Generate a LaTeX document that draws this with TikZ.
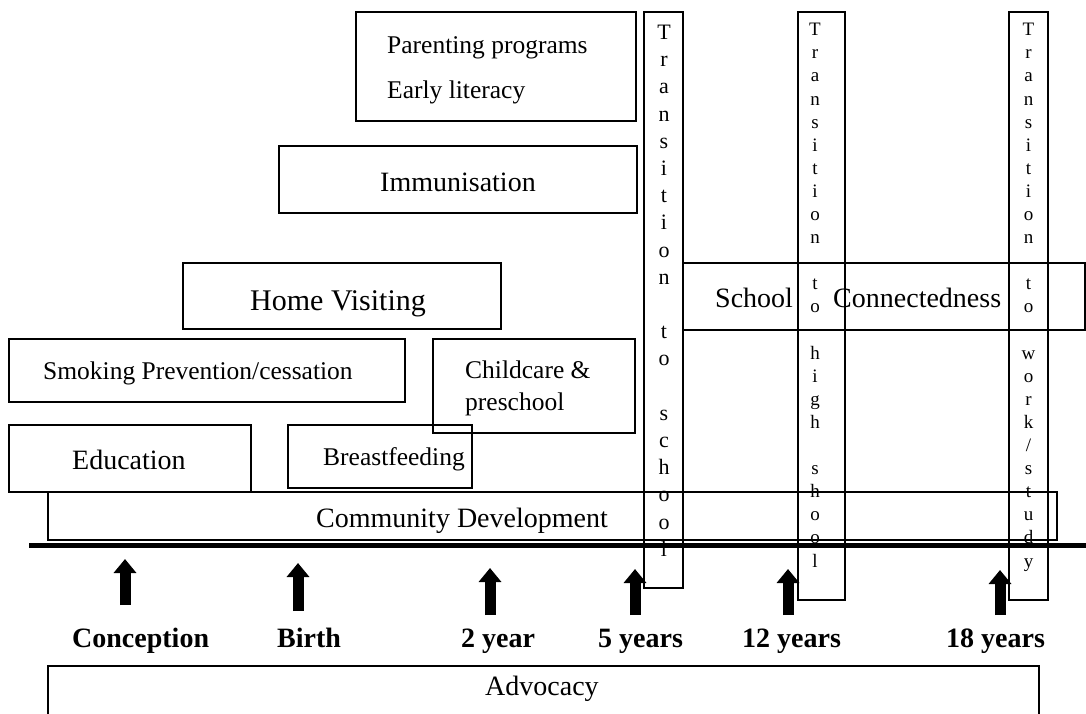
\documentclass[tikz,border=0pt]{standalone}
\usepackage{fontspec}
\setmainfont{Liberation Serif}
\usetikzlibrary{arrows.meta}
\begin{document}
\begin{tikzpicture}[x=1pt,y=-1pt,
  box/.style={draw, line width=1.3pt, inner sep=0pt},
  txt/.style={anchor=base west, inner sep=0pt},
  big/.style={font=\fontsize{28}{33}\selectfont},
  mid/.style={font=\fontsize{25.5}{30}\selectfont},
  lab/.style={anchor=base west, inner sep=0pt, font=\fontsize{28}{33}\selectfont\bfseries},
  vtxtA/.style={anchor=north, inner sep=0pt, align=center, font=\fontsize{22}{27.2}\selectfont},
  vtxtB/.style={anchor=north, inner sep=0pt, align=center, font=\fontsize{19}{23.1}\selectfont},
  uparrow/.style={line width=11pt, -{Triangle[width=22pt,length=14pt]}}
]
\useasboundingbox (0,0) rectangle (1086,713);
\clip (0,0) rectangle (1086,713);

% boxes
\node[box, minimum width=280pt, minimum height=109pt] (par) at (496,66.5) {};
\node[box, minimum width=358pt, minimum height=67pt] (imm) at (458,179.5) {};
\node[box, minimum width=318pt, minimum height=66pt] (home) at (342,296) {};
\node[box, minimum width=396pt, minimum height=63pt] (smok) at (207,370.5) {};
\node[box, minimum width=202pt, minimum height=94pt] (child) at (534,386) {};
\node[box, minimum width=242pt, minimum height=67pt] (edu) at (130,458.5) {};
\node[box, minimum width=184pt, minimum height=63pt] (breast) at (380,456.5) {};
\node[box, minimum width=1009pt, minimum height=48pt] (comm) at (552.5,516) {};
\node[box, minimum width=402pt, minimum height=67pt] (school) at (884,296.5) {};
\node[box, minimum width=991pt, minimum height=64pt] (adv) at (543.5,698) {};
\node[box, minimum width=39pt, minimum height=576pt] (t1) at (663.5,300) {};
\node[box, minimum width=47pt, minimum height=588pt] (t2) at (821.5,306) {};
\node[box, minimum width=39pt, minimum height=588pt] (t3) at (1028.5,306) {};

% box texts
\node[txt, mid] (part1) at (387,53) {Parenting programs};
\node[txt, mid] (part2) at (387,98) {Early literacy};
\node[txt, big] (immt) at (380,191) {Immunisation};
\node[txt, font=\fontsize{30}{35}\selectfont] (homet) at (250,310) {Home Visiting};
\node[txt, mid] (smokt) at (43,379) {Smoking Prevention/cessation};
\node[txt, mid] (childt1) at (465,378) {Childcare \&};
\node[txt, mid] (childt2) at (465,410) {preschool};
\node[txt, big] (edut) at (72,469) {Education};
\node[txt, mid] (breastt) at (323,465) {Breastfeeding};
\node[txt, big] (commt) at (316,527) {Community Development};
\node[txt, big] (schoolt1) at (715,307) {School};
\node[txt, big] (schoolt2) at (833,307) {Connectedness};
\node[txt, big] (advt) at (485,695) {Advocacy};

% vertical transition texts
\node[vtxtA] (t1t) at (664,24.8) {T\\r\\a\\n\\s\\i\\t\\i\\o\\n\\\mbox{}\\t\\o\\\mbox{}\\s\\c\\h\\o\\o\\l};
\node[vtxtB] (t2t) at (815,23.1) {T\\r\\a\\n\\s\\i\\t\\i\\o\\n\\\mbox{}\\t\\o\\\mbox{}\\h\\i\\g\\h\\\mbox{}\\s\\h\\o\\o\\l};
\node[vtxtB] (t3t) at (1028.5,23.1) {T\\r\\a\\n\\s\\i\\t\\i\\o\\n\\\mbox{}\\t\\o\\\mbox{}\\w\\o\\r\\k\\/\\s\\t\\u\\d\\y};

% timeline
\coordinate (tl0) at (29,545.5);
\coordinate (tl1) at (1086,545.5);
\draw[line width=4.5pt] (tl0) -- (tl1);

% arrows
\coordinate (a1b) at (125,605); \coordinate (a1t) at (125,559);
\coordinate (a2b) at (298,611); \coordinate (a2t) at (298,563);
\coordinate (a3b) at (490,615); \coordinate (a3t) at (490,568);
\coordinate (a4b) at (635,615); \coordinate (a4t) at (635,569);
\coordinate (a5b) at (788,615); \coordinate (a5t) at (788,569);
\coordinate (a6b) at (1000,615); \coordinate (a6t) at (1000,570);
\draw[uparrow] (a1b) -- (a1t);
\draw[uparrow] (a2b) -- (a2t);
\draw[uparrow] (a3b) -- (a3t);
\draw[uparrow] (a4b) -- (a4t);
\draw[uparrow] (a5b) -- (a5t);
\draw[uparrow] (a6b) -- (a6t);

% age labels
\node[lab] (conc) at (72,647) {Conception};
\node[lab] (birth) at (277,647) {Birth};
\node[lab] (y2) at (461,647) {2 year};
\node[lab] (y5) at (598,647) {5 years};
\node[lab] (y12) at (742,647) {12 years};
\node[lab] (y18) at (946,647) {18 years};
\end{tikzpicture}
\end{document}
